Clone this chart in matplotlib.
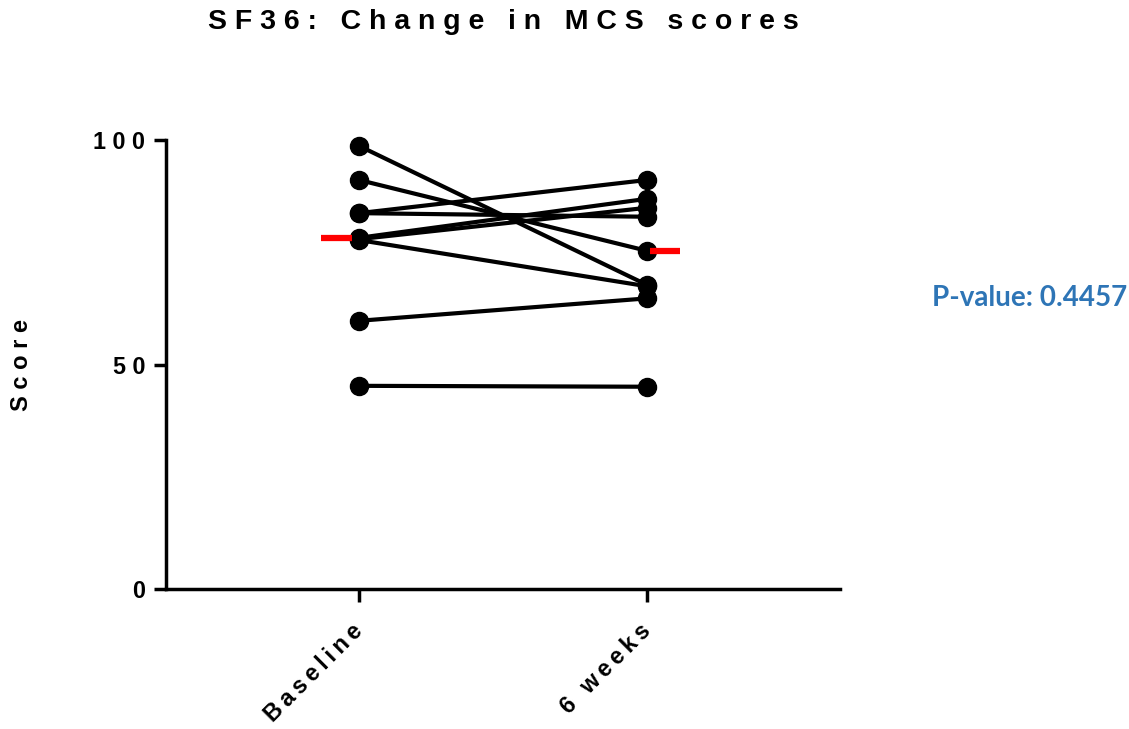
import numpy as np
import matplotlib
matplotlib.use("Agg")
import matplotlib.pyplot as plt

# datos (9 sujetos, pareados)
timepoints = ["Baseline", "6 weeks"]
baseline = [98.8, 91.2, 83.8, 83.8, 78.3, 78.0, 77.8, 59.8, 45.3]
week6 = [67.8, 75.4, 91.2, 83.0, 87.0, 85.0, 67.5, 64.8, 45.1]
y_ticks = [0, 50, 100]
p_text = "P-value: 0.4457"
title = "SF36: Change in MCS scores"
ylab = "Score"


def spaced(s, sep=" "):
    # simula el espaciado entre letras del original
    return sep.join(s)


plt.rcParams['font.family'] = ['Liberation Sans', 'DejaVu Sans']

fig = plt.figure(figsize=(11.29, 7.29), dpi=100)
ax = fig.add_axes([166 / 1129, 1 - 589 / 729, 674 / 1129, (589 - 140.5) / 729])

xpos = np.arange(len(timepoints))
for b, w in zip(baseline, week6):
    ax.plot(xpos, [b, w], color="black", lw=3, marker="o", markersize=13,
            solid_capstyle="butt", zorder=3, clip_on=False)

# medianas en rojo
med = [np.median(baseline), np.median(week6)]
ax.plot([xpos[0] - 0.132, xpos[0] - 0.024], [med[0], med[0]], color="red", lw=4.5,
        zorder=4, solid_capstyle="butt")
ax.plot([xpos[1] + 0.01, xpos[1] + 0.115], [med[1], med[1]], color="red", lw=4.5,
        zorder=4, solid_capstyle="butt")

ax.set_xlim(-0.67, 1.67)
ax.set_ylim(0, 100)
ax.set_yticks(y_ticks)
ax.set_yticklabels([spaced(str(t)) for t in y_ticks], fontsize=16.8, fontweight="bold")
ax.set_xticks(xpos)
ax.set_xticklabels([spaced(t, "\u2009") for t in timepoints], fontsize=16.8,
                   fontweight="bold", rotation=45, ha="right", va="center",
                   rotation_mode="anchor")
ax.tick_params(direction="out", length=9, width=2.5, pad=6)
ax.tick_params(axis="x", pad=19)

for s in ["top", "right"]:
    ax.spines[s].set_visible(False)
for s in ["left", "bottom"]:
    ax.spines[s].set_linewidth(2.5)

ax.set_ylabel(spaced(ylab), fontsize=17, fontweight="bold")
ax.yaxis.set_label_coords((33 - 166) / 674, 0.5)
fig.text(503 / 1129, 1 - 22 / 729, spaced(title), fontsize=20.5, fontweight="bold",
         ha="center", va="center")
fig.text(1127 / 1129, 1 - 298 / 729, p_text, fontsize=20, fontweight="bold",
         color="#2E75B6", ha="right", va="center", family=["Lato", "DejaVu Sans"])

fig.savefig("out.png", dpi=100)
